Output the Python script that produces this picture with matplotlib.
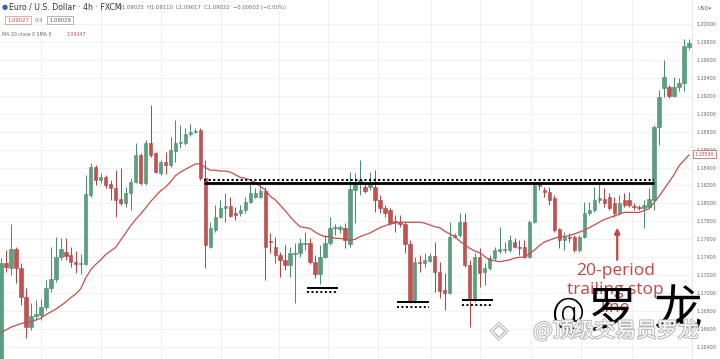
import numpy as np
import matplotlib.pyplot as plt
import matplotlib.patheffects as pe

plt.rcParams['font.family'] = ['DejaVu Sans']

# EUR/USD 4h candles
opens = [
    1.1614, 1.1734, 1.1728, 1.1749, 1.1728, 1.1696, 1.1662, 1.1675, 1.1676, 1.1685,
    1.1706, 1.1716, 1.1740, 1.1746, 1.1743, 1.1735, 1.1732, 1.1732, 1.1809, 1.1841,
    1.1826, 1.1829, 1.1822, 1.1817, 1.1805, 1.1801, 1.1812, 1.1824, 1.1854, 1.1823,
    1.1867, 1.1856, 1.1834, 1.1846, 1.1843, 1.1858, 1.1867, 1.1867, 1.1877, 1.1880,
    1.1882, 1.1828, 1.1751, 1.1770, 1.1785, 1.1795, 1.1797, 1.1789, 1.1789, 1.1793,
    1.1802, 1.1807, 1.1807, 1.1814, 1.1758, 1.1751, 1.1743, 1.1737, 1.1731, 1.1744,
    1.1745, 1.1755, 1.1756, 1.1735, 1.1721, 1.1740, 1.1756, 1.1773, 1.1772, 1.1773,
    1.1755, 1.1815, 1.1824, 1.1818, 1.1818, 1.1818, 1.1804, 1.1795, 1.1793, 1.1780,
    1.1779, 1.1777, 1.1755, 1.1690, 1.1735, 1.1734, 1.1736, 1.1741, 1.1724, 1.1703,
    1.1700, 1.1763, 1.1765, 1.1779, 1.1731, 1.1692, 1.1740, 1.1724, 1.1728, 1.1739,
    1.1747, 1.1748, 1.1748, 1.1757, 1.1751, 1.1751, 1.1740, 1.1779, 1.1823, 1.1815,
    1.1813, 1.1806, 1.1772, 1.1759, 1.1763, 1.1763, 1.1748, 1.1763, 1.1789, 1.1793,
    1.1804, 1.1805, 1.1807, 1.1801, 1.1789, 1.1804, 1.1804, 1.1797, 1.1796, 1.1795,
    1.1796, 1.1804, 1.1885, 1.1929, 1.1930, 1.1920, 1.1930, 1.1934, 1.1974]
highs = [
    1.1739, 1.1748, 1.1777, 1.1751, 1.1734, 1.1706, 1.1689, 1.1692, 1.1693, 1.1715,
    1.1751, 1.1763, 1.1761, 1.1761, 1.1751, 1.1747, 1.1744, 1.1832, 1.1845, 1.1843,
    1.1834, 1.1832, 1.1826, 1.1837, 1.1840, 1.1818, 1.1828, 1.1867, 1.1856, 1.1871,
    1.1910, 1.1857, 1.1848, 1.1857, 1.1874, 1.1893, 1.1887, 1.1884, 1.1889, 1.1884,
    1.1884, 1.1848, 1.1779, 1.1798, 1.1804, 1.1812, 1.1807, 1.1796, 1.1798, 1.1807,
    1.1823, 1.1817, 1.1821, 1.1818, 1.1767, 1.1763, 1.1746, 1.1754, 1.1751, 1.1756,
    1.1761, 1.1768, 1.1761, 1.1743, 1.1754, 1.1765, 1.1785, 1.1777, 1.1776, 1.1778,
    1.1835, 1.1834, 1.1848, 1.1824, 1.1835, 1.1837, 1.1809, 1.1798, 1.1795, 1.1787,
    1.1787, 1.1779, 1.1759, 1.1740, 1.1743, 1.1745, 1.1745, 1.1757, 1.1735, 1.1722,
    1.1779, 1.1767, 1.1789, 1.1789, 1.1737, 1.1745, 1.1750, 1.1734, 1.1743, 1.1751,
    1.1774, 1.1757, 1.1765, 1.1761, 1.1759, 1.1759, 1.1782, 1.1824, 1.1824, 1.1818,
    1.1818, 1.1809, 1.1773, 1.1768, 1.1767, 1.1765, 1.1765, 1.1802, 1.1802, 1.1818,
    1.1823, 1.1817, 1.1812, 1.1807, 1.1809, 1.1812, 1.1813, 1.1801, 1.1798, 1.1804,
    1.1817, 1.1887, 1.1926, 1.1960, 1.1932, 1.1941, 1.1940, 1.1983, 1.1983]
lows = [
    1.1609, 1.1724, 1.1720, 1.1711, 1.1687, 1.1650, 1.1659, 1.1670, 1.1670, 1.1681,
    1.1701, 1.1712, 1.1737, 1.1737, 1.1729, 1.1722, 1.1721, 1.1731, 1.1807, 1.1821,
    1.1823, 1.1817, 1.1804, 1.1785, 1.1798, 1.1796, 1.1793, 1.1823, 1.1821, 1.1821,
    1.1852, 1.1834, 1.1832, 1.1833, 1.1841, 1.1846, 1.1862, 1.1865, 1.1875, 1.1879,
    1.1826, 1.1728, 1.1750, 1.1768, 1.1784, 1.1779, 1.1785, 1.1782, 1.1786, 1.1789,
    1.1801, 1.1806, 1.1806, 1.1715, 1.1745, 1.1734, 1.1718, 1.1726, 1.1718, 1.1689,
    1.1740, 1.1748, 1.1732, 1.1717, 1.1710, 1.1739, 1.1754, 1.1765, 1.1767, 1.1750,
    1.1751, 1.1778, 1.1809, 1.1812, 1.1815, 1.1790, 1.1789, 1.1785, 1.1776, 1.1768,
    1.1774, 1.1745, 1.1689, 1.1689, 1.1724, 1.1729, 1.1735, 1.1701, 1.1695, 1.1681,
    1.1699, 1.1761, 1.1763, 1.1729, 1.1662, 1.1690, 1.1707, 1.1709, 1.1726, 1.1737,
    1.1745, 1.1745, 1.1746, 1.1750, 1.1743, 1.1739, 1.1739, 1.1778, 1.1815, 1.1807,
    1.1798, 1.1768, 1.1750, 1.1748, 1.1757, 1.1746, 1.1746, 1.1761, 1.1787, 1.1790,
    1.1801, 1.1796, 1.1793, 1.1785, 1.1787, 1.1796, 1.1796, 1.1793, 1.1793, 1.1773,
    1.1795, 1.1793, 1.1865, 1.1919, 1.1918, 1.1919, 1.1925, 1.1925, 1.1971]
closes = [
    1.1734, 1.1729, 1.1749, 1.1728, 1.1696, 1.1662, 1.1675, 1.1677, 1.1685, 1.1706,
    1.1716, 1.1740, 1.1749, 1.1741, 1.1735, 1.1732, 1.1734, 1.1811, 1.1841, 1.1826,
    1.1829, 1.1821, 1.1817, 1.1804, 1.1801, 1.1812, 1.1824, 1.1854, 1.1823, 1.1867,
    1.1854, 1.1835, 1.1846, 1.1843, 1.1860, 1.1867, 1.1869, 1.1877, 1.1880, 1.1881,
    1.1828, 1.1754, 1.1773, 1.1785, 1.1795, 1.1797, 1.1786, 1.1787, 1.1793, 1.1802,
    1.1812, 1.1812, 1.1814, 1.1751, 1.1757, 1.1743, 1.1737, 1.1731, 1.1745, 1.1745,
    1.1756, 1.1756, 1.1735, 1.1721, 1.1740, 1.1756, 1.1773, 1.1774, 1.1774, 1.1759,
    1.1816, 1.1821, 1.1826, 1.1814, 1.1823, 1.1804, 1.1795, 1.1789, 1.1778, 1.1779,
    1.1777, 1.1755, 1.1690, 1.1735, 1.1734, 1.1737, 1.1741, 1.1724, 1.1702, 1.1700,
    1.1763, 1.1765, 1.1779, 1.1731, 1.1692, 1.1740, 1.1722, 1.1728, 1.1739, 1.1748,
    1.1749, 1.1749, 1.1759, 1.1751, 1.1750, 1.1740, 1.1779, 1.1821, 1.1819, 1.1813,
    1.1804, 1.1770, 1.1759, 1.1763, 1.1761, 1.1748, 1.1763, 1.1789, 1.1793, 1.1804,
    1.1806, 1.1801, 1.1795, 1.1789, 1.1801, 1.1798, 1.1798, 1.1796, 1.1795, 1.1798,
    1.1805, 1.1885, 1.1919, 1.1941, 1.1920, 1.1930, 1.1934, 1.1976, 1.1979]
# 20-period SMA as drawn
ma20 = [
    1.1656, 1.1659, 1.1662, 1.1664, 1.1666, 1.1667, 1.1668, 1.1670, 1.1672, 1.1676,
    1.1679, 1.1682, 1.1686, 1.1690, 1.1695, 1.1699, 1.1705, 1.1717, 1.1726, 1.1732,
    1.1737, 1.1743, 1.1747, 1.1751, 1.1759, 1.1767, 1.1775, 1.1782, 1.1788, 1.1795,
    1.1802, 1.1808, 1.1814, 1.1818, 1.1824, 1.1831, 1.1835, 1.1838, 1.1841, 1.1844,
    1.1844, 1.1840, 1.1837, 1.1837, 1.1836, 1.1836, 1.1835, 1.1832, 1.1829, 1.1828,
    1.1826, 1.1823, 1.1819, 1.1815, 1.1808, 1.1804, 1.1798, 1.1792, 1.1785, 1.1779,
    1.1774, 1.1773, 1.1772, 1.1768, 1.1765, 1.1763, 1.1763, 1.1761, 1.1761, 1.1760,
    1.1759, 1.1760, 1.1763, 1.1765, 1.1767, 1.1770, 1.1773, 1.1775, 1.1777, 1.1778,
    1.1779, 1.1779, 1.1779, 1.1779, 1.1779, 1.1778, 1.1776, 1.1774, 1.1773, 1.1769,
    1.1766, 1.1763, 1.1758, 1.1754, 1.1750, 1.1747, 1.1745, 1.1741, 1.1737, 1.1736,
    1.1735, 1.1736, 1.1737, 1.1739, 1.1740, 1.1740, 1.1744, 1.1748, 1.1753, 1.1757,
    1.1759, 1.1761, 1.1763, 1.1763, 1.1764, 1.1766, 1.1768, 1.1770, 1.1773, 1.1776,
    1.1779, 1.1782, 1.1784, 1.1786, 1.1788, 1.1790, 1.1790, 1.1790, 1.1790, 1.1792,
    1.1794, 1.1801, 1.1808, 1.1816, 1.1824, 1.1832, 1.1842, 1.1848, 1.1854]

price_ticks = [1.164 + 0.002 * k for k in range(19)]
last_ma = 1.18548
# session gridlines (bar positions)
time_grid = [8.0, 20.1, 32.1, 44.1, 55.8, 65.6, 75.6, 86.2, 96.1, 106.3, 116.3, 126.6]

resistance = 1.1823           # solid line, dotted one sits just above
resistance_span = (40.7, 131.0)
supports = [(61.4, 67.6, 1.1706), (79.4, 85.8, 1.1690), (92.5, 98.7, 1.1692)]

GREEN = '#5c9f80'
GREEN_EDGE = '#4a8a6c'
RED = '#c4504f'
RED_EDGE = '#a94444'
MA_COL = '#c0504d'
NOTE_RED = '#c0474a'

fig = plt.figure(figsize=(7.2, 3.59), dpi=100)
ax = fig.add_axes([0, 0, 692 / 720, 1])

o = np.array(opens)
h = np.array(highs)
l = np.array(lows)
c = np.array(closes)
x = np.arange(len(c))
up = c >= o
body_col = np.where(up, GREEN, RED)
edge_col = np.where(up, GREEN_EDGE, RED_EDGE)

ax.vlines(x, l, h, colors=edge_col, lw=0.7, zorder=2)
ax.bar(x, np.maximum(np.abs(c - o), 0.00003), bottom=np.minimum(o, c), width=0.68,
       color=body_col, edgecolor=edge_col, lw=0.4, zorder=3)
ax.plot(x, ma20, color=MA_COL, lw=0.9, zorder=4)

# resistance
ax.plot(resistance_span, [resistance, resistance], color='black', lw=2.0, zorder=5,
        solid_capstyle='butt')
ax.plot(resistance_span, [resistance + 0.00033] * 2, color='black', lw=1.5,
        linestyle=(0, (1, 1.2)), zorder=5)
# support marks
for x0, x1, lvl in supports:
    ax.plot([x0, x1], [lvl, lvl], color='black', lw=1.4, zorder=5, solid_capstyle='butt')
    ax.plot([x0, x1], [lvl - 0.00052] * 2, color='black', lw=1.4,
            linestyle=(0, (1, 1.3)), zorder=5)

# trailing stop note
ax.annotate('', xy=(123.6, 1.1776), xytext=(123.6, 1.1734),
            arrowprops=dict(arrowstyle='-|>', color=NOTE_RED, lw=1.6, mutation_scale=8),
            zorder=6)
ax.text(123.2, 1.1733, '20-period\ntrailing stop\nline', color=NOTE_RED, fontsize=12.5,
        family='Open Sans', ha='center', va='top', linespacing=1.2, zorder=6)

ax.set_xlim(-0.2, 138.6)
ax.set_ylim(1.16265, 1.20268)
ax.set_yticks(price_ticks)
ax.set_yticklabels(['%.5f' % t for t in price_ticks])
ax.yaxis.tick_right()
ax.tick_params(axis='y', length=0, pad=3, labelsize=3.9, labelcolor='#666666')
for t in ax.get_yticklabels():
    t.set_family('Liberation Sans')
ax.set_xticks(time_grid)
ax.tick_params(axis='x', length=0, labelbottom=False)
ax.grid(True, color='#f1f1f1', lw=0.8, zorder=0)
ax.set_axisbelow(True)
for s in ['top', 'left', 'bottom']:
    ax.spines[s].set_visible(False)
ax.spines['right'].set_color('#e6e6e6')
ax.spines['right'].set_linewidth(0.8)

ax.text(1.004, last_ma, '%.5f' % last_ma, transform=ax.get_yaxis_transform(),
        fontsize=3.9, family='Liberation Sans', color=RED, ha='left', va='center',
        bbox=dict(boxstyle='square,pad=0.25', fc='white', ec=RED, lw=0.5), zorder=7)


def fx(px):
    return px / 720


def fy(py):
    return 1 - py / 359


fig.text(fx(697), fy(8), 'USD▾', fontsize=3.9, color='#666666', va='center')

# header
fig.text(fx(2), fy(7), '●', fontsize=5, color='#2f66b3', va='center')
fig.text(fx(9), fy(7), 'Euro / U.S. Dollar · 4h · FXCM', fontsize=5.6, color='#333333',
         va='center')
fig.text(fx(118), fy(7), 'O1.09025  H1.09110  L1.09017  C1.09022  −0.00003 (−0.00%)',
         fontsize=3.8, color='#666666', va='center')
fig.text(fx(7), fy(20), '1.09027', fontsize=3.8, color=RED, va='center',
         bbox=dict(boxstyle='square,pad=0.35', fc='white', ec='#e08a8a', lw=0.5))
fig.text(fx(35), fy(20), '0.4', fontsize=3.8, color='#777777', va='center')
fig.text(fx(49), fy(20), '1.09029', fontsize=3.8, color='#555555', va='center',
         bbox=dict(boxstyle='square,pad=0.35', fc='white', ec='#999999', lw=0.5))
fig.text(fx(2), fy(34), 'MA 20 close 0 SMA 5', fontsize=3.4, color='#666666', va='center')
fig.text(fx(66), fy(34), '1.09347', fontsize=3.4, color=RED, va='center')

# watermarks
cjk = ['Noto Sans CJK SC', 'DejaVu Sans']
fig.text(fx(567), fy(313), '@', fontsize=26, color='black', ha='center', va='center',
         weight='light', zorder=8)
fig.text(fx(612), fy(312), '罗', fontsize=35, family=cjk, color='black', ha='center',
         va='center', weight='light', zorder=8)
fig.text(fx(678), fy(311), '龙', fontsize=35, family=cjk, color='black', ha='center',
         va='center', weight='light', zorder=8)
halo = [pe.withStroke(linewidth=1.4, foreground='#b5b5b5')]
fig.text(fx(499), fy(331), '◈', fontsize=16, color='white', ha='center', va='center',
         path_effects=halo, zorder=9)
fig.text(fx(616), fy(331), '@顶级交易员罗龙', fontsize=15, family=cjk, color='white',
         ha='center', va='center', path_effects=halo, zorder=9)

fig.savefig('out.png', dpi=100)
